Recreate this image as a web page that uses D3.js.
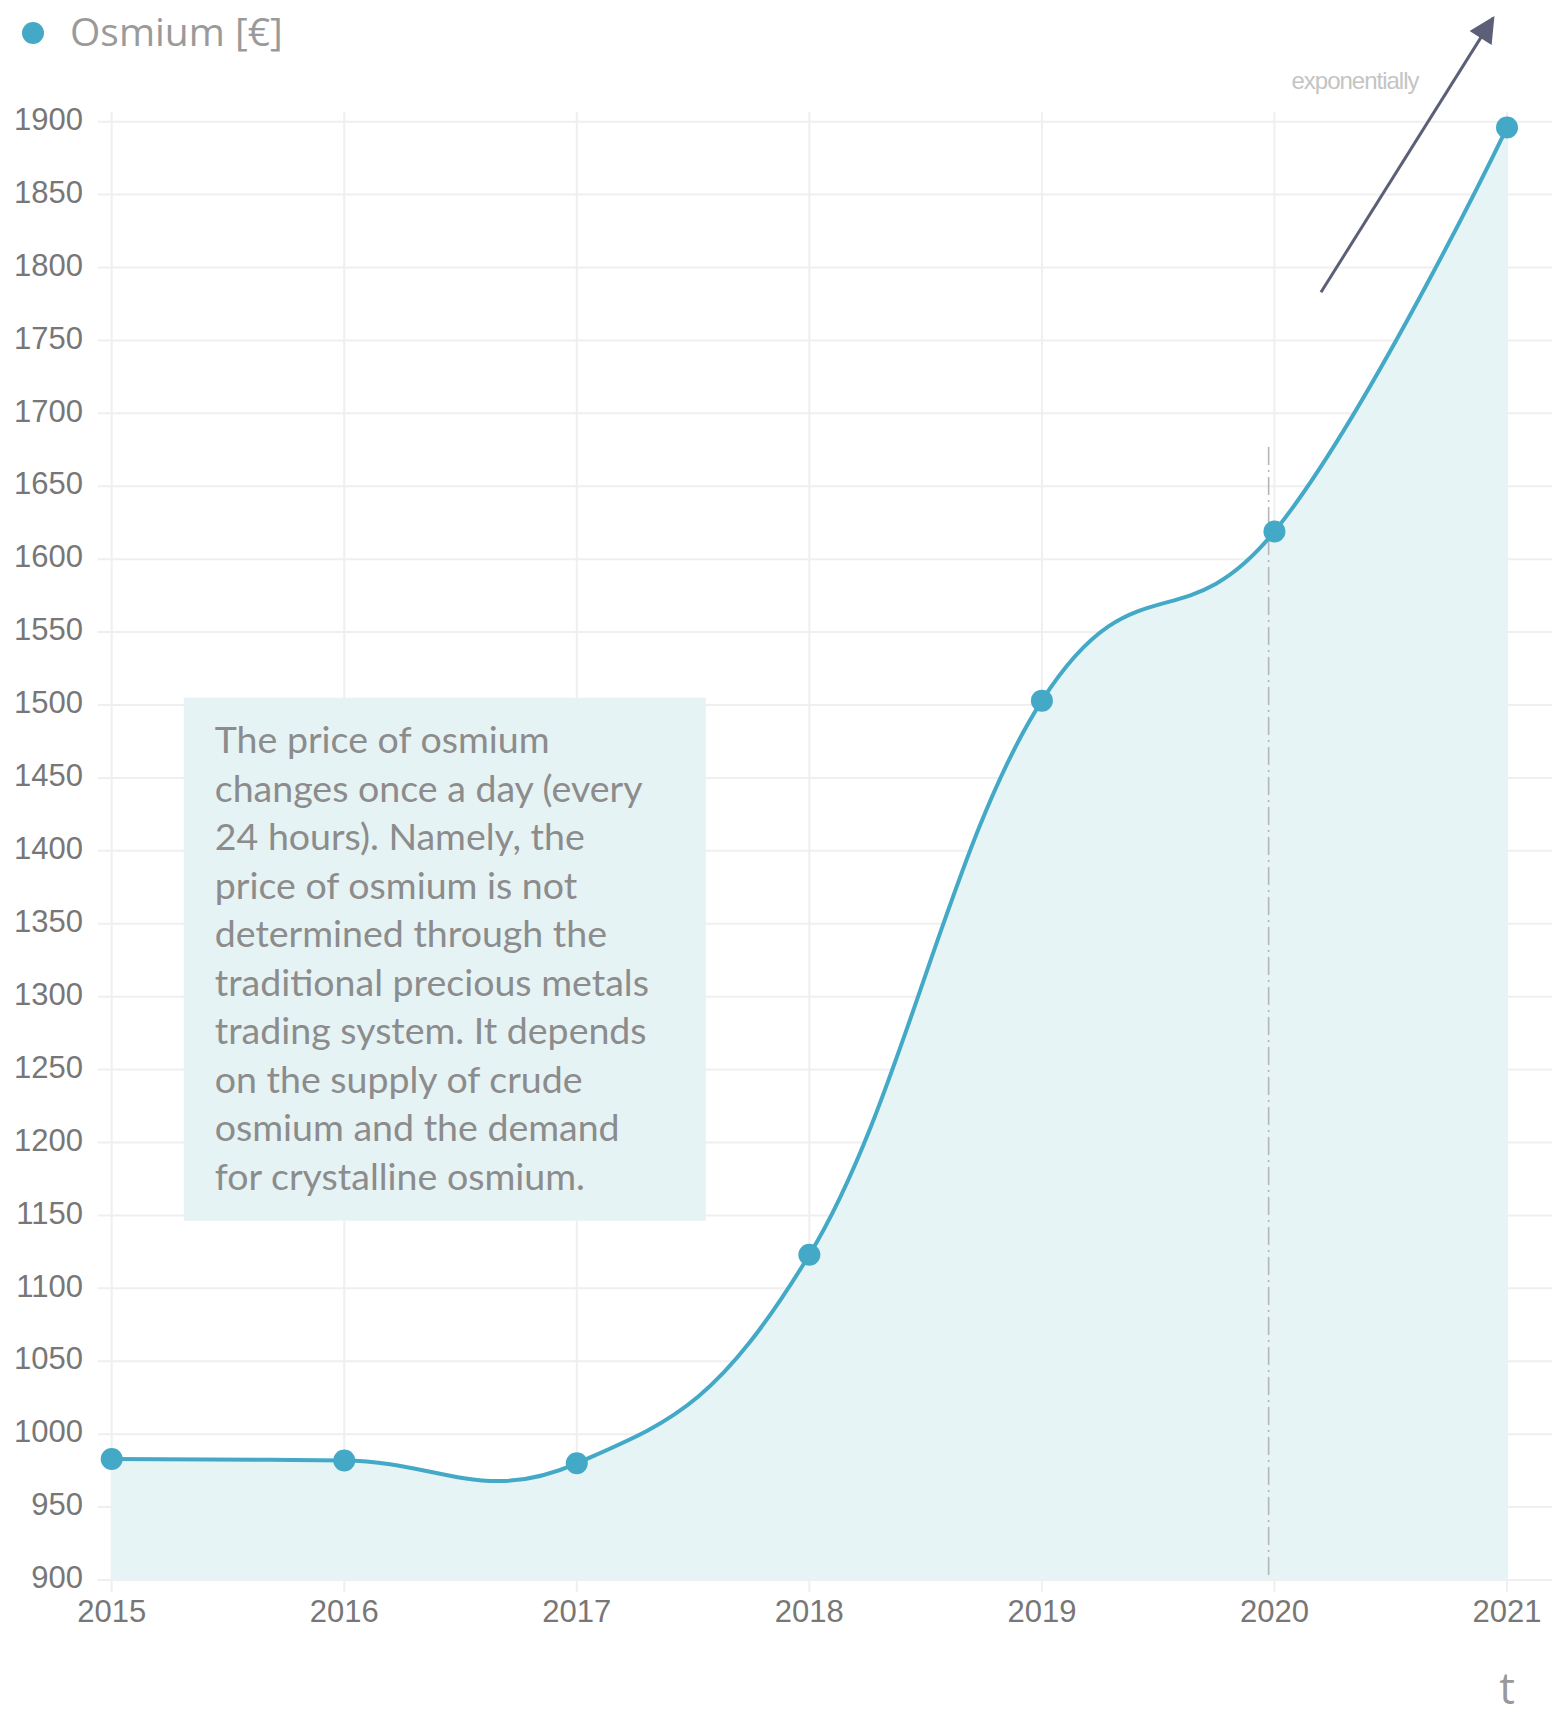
<!DOCTYPE html>
<html>
<head>
<meta charset="utf-8">
<script src="https://cdn.jsdelivr.net/npm/d3@7"></script>
<style>
  body { margin: 0; background: #fff; }
  svg { display: block; }
</style>
</head>
<body>
<svg id="chart" width="1552" height="1712"></svg>
<script>
// data
const years = [2015, 2016, 2017, 2018, 2019, 2020, 2021];
const prices = [983, 982, 980, 1123, 1503, 1619, 1896];
const yTicks = d3.range(900, 1901, 50);
const seriesName = 'Osmium [€]';
const noteLines = [
    'The price of osmium',
    'changes once a day (every',
    '24 hours). Namely, the',
    'price of osmium is not',
    'determined through the',
    'traditional precious metals',
    'trading system. It depends',
    'on the supply of crude',
    'osmium and the demand',
    'for crystalline osmium.'
];

const lineColor = '#43a9c6';
const gridColor = '#efefef';

const svg = d3.select('#chart');

const x = d3.scaleLinear().domain([2015, 2021]).range([111.7, 1507]);
const y = d3.scaleLinear().domain([900, 1900]).range([1580, 121.7]);

const data = years.map((yr, i) => ({ year: yr, value: prices[i] }));

// horizontal grid
svg.append('g')
    .selectAll('line')
    .data(yTicks)
    .enter()
    .append('line')
    .attr('x1', x(2015) - 14)
    .attr('x2', 1552)
    .attr('y1', d => y(d))
    .attr('y2', d => y(d))
    .attr('stroke', gridColor)
    .attr('stroke-width', 2);

// vertical grid
svg.append('g')
    .selectAll('line')
    .data(years)
    .enter()
    .append('line')
    .attr('x1', d => x(d))
    .attr('x2', d => x(d))
    .attr('y1', y(1900) - 10)
    .attr('y2', y(900) + 12)
    .attr('stroke', gridColor)
    .attr('stroke-width', 2);

// area + line
const curve = d3.curveCardinal.tension(-0.2);

svg.append('path')
    .datum(data)
    .attr('fill', '#e7f4f6')
    .attr('d', d3.area()
        .x(d => x(d.year))
        .y0(y(900))
        .y1(d => y(d.value))
        .curve(curve));

// annotation box
const boxX = x(2015.31), boxY = y(1505), boxW = 522, boxH = 523;
svg.append('rect')
    .attr('x', boxX)
    .attr('y', boxY)
    .attr('width', boxW)
    .attr('height', boxH)
    .attr('fill', '#e6f3f4');

svg.append('g')
    .selectAll('text')
    .data(noteLines)
    .enter()
    .append('text')
    .attr('x', boxX + 31)
    .attr('y', (d, i) => boxY + 46 + i * 48.5)
    .attr('dominant-baseline', 'middle')
    .attr('font-family', 'Lato, "Open Sans", sans-serif')
    .attr('font-size', 37.5)
    .attr('fill', '#8c8c8c')
    .text(d => d);

// dash-dot marker at 2020
svg.append('line')
    .attr('x1', x(2019.975))
    .attr('x2', x(2019.975))
    .attr('y1', y(1677))
    .attr('y2', y(900))
    .attr('stroke', '#b5b5b5')
    .attr('stroke-width', 1.6)
    .attr('stroke-dasharray', '18 5 2 5');

svg.append('path')
    .datum(data)
    .attr('fill', 'none')
    .attr('stroke', lineColor)
    .attr('stroke-width', 4)
    .attr('d', d3.line()
        .x(d => x(d.year))
        .y(d => y(d.value))
        .curve(curve));

svg.append('g')
    .selectAll('circle')
    .data(data)
    .enter()
    .append('circle')
    .attr('cx', d => x(d.year))
    .attr('cy', d => y(d.value))
    .attr('r', 11)
    .attr('fill', lineColor);

// y axis labels
svg.append('g')
    .selectAll('text')
    .data(yTicks)
    .enter()
    .append('text')
    .attr('x', 83)
    .attr('y', d => y(d))
    .attr('text-anchor', 'end')
    .attr('dominant-baseline', 'middle')
    .attr('font-family', '"Liberation Sans", Arial, sans-serif')
    .attr('font-size', 31)
    .attr('fill', '#777')
    .text(d => d);

// x axis labels
svg.append('g')
    .selectAll('text')
    .data(years)
    .enter()
    .append('text')
    .attr('x', d => x(d))
    .attr('y', y(900) + 34)
    .attr('text-anchor', 'middle')
    .attr('dominant-baseline', 'middle')
    .attr('font-family', '"Liberation Sans", Arial, sans-serif')
    .attr('font-size', 31)
    .attr('fill', '#777')
    .text(d => d);

// axis title "t"
svg.append('text')
    .attr('x', x(2021))
    .attr('y', 1692)
    .attr('text-anchor', 'middle')
    .attr('dominant-baseline', 'middle')
    .attr('font-family', '"Open Sans", sans-serif')
    .attr('font-size', 44)
    .attr('fill', '#999')
    .text('t');

// legend
svg.append('circle')
    .attr('cx', 33)
    .attr('cy', 33)
    .attr('r', 11)
    .attr('fill', lineColor);

svg.append('text')
    .attr('x', 70)
    .attr('y', 36)
    .attr('dominant-baseline', 'middle')
    .attr('font-family', '"Open Sans", sans-serif')
    .attr('font-size', 39)
    .attr('fill', '#9a9a9a')
    .text(seriesName);

// "exponentially" arrow
svg.append('defs').append('marker')
    .attr('id', 'head')
    .attr('viewBox', '0 0 10 10')
    .attr('refX', 9)
    .attr('refY', 5)
    .attr('markerWidth', 28)
    .attr('markerHeight', 26)
    .attr('markerUnits', 'userSpaceOnUse')
    .attr('orient', 'auto')
    .append('path')
    .attr('d', 'M0,0 L10,5 L0,10 Z')
    .attr('fill', '#5b5f78');

svg.append('line')
    .attr('x1', x(2020.2))
    .attr('y1', y(1783))
    .attr('x2', x(2020.94))
    .attr('y2', y(1971))
    .attr('stroke', '#5b5f78')
    .attr('stroke-width', 3)
    .attr('marker-end', 'url(#head)');

svg.append('text')
    .attr('x', 1355)
    .attr('y', 83)
    .attr('text-anchor', 'middle')
    .attr('dominant-baseline', 'middle')
    .attr('font-family', '"Liberation Sans", Arial, sans-serif')
    .attr('font-size', 24)
    .attr('letter-spacing', -1)
    .attr('fill', '#c4c4c4')
    .text('exponentially');
</script>
</body>
</html>
